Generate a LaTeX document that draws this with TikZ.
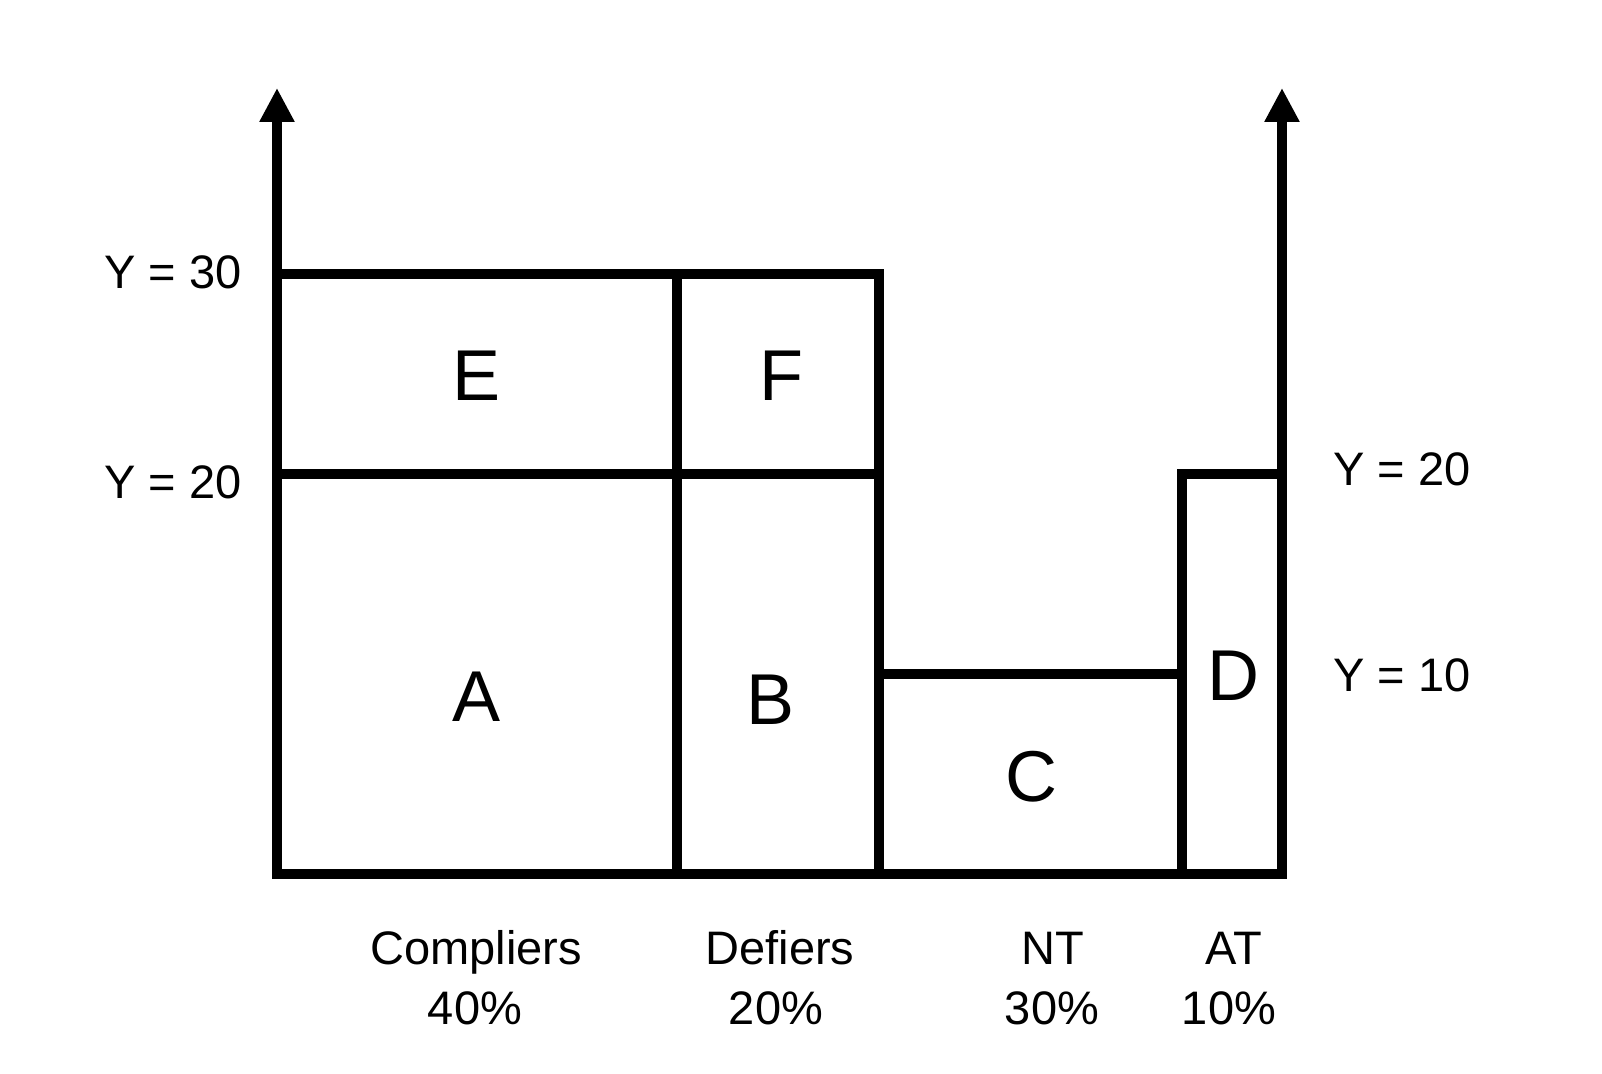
\documentclass[tikz,border=0pt]{standalone}
\usepackage{fontspec}
\setmainfont{Liberation Sans}
\usetikzlibrary{arrows.meta}
\tikzstyle{cell} = [line width=4.8pt]
\tikzstyle{axis} = [line width=4.8pt,-{Triangle[width=16.5pt,length=17pt]}]
\tikzstyle{letter} = [inner sep=0pt, font=\fontsize{36}{43}\selectfont]
\tikzstyle{lab} = [inner sep=0pt, font=\fontsize{23.5}{28}\selectfont]

\begin{document}
\begin{tikzpicture}[x=5pt, y=10pt]
    \useasboundingbox (-27.7,-10) rectangle (132.5,43.7);

    % Boxes (x = share in %, y = outcome)
    \draw[cell] (0,0) rectangle (40,30);
    \draw[cell] (0,20) -- (40,20);
    \draw[cell] (40,0) rectangle (60.2,30);
    \draw[cell] (40,20) -- (60.2,20);
    \draw[cell] (60.2,0) rectangle (90.5,10);
    \draw[cell] (90.5,0) rectangle (100.5,20);

    % Axes
    \coordinate (lbase) at (0,0);
    \coordinate (ltip) at (0,39.3);
    \coordinate (rbase) at (100.5,0);
    \coordinate (rtip) at (100.5,39.3);
    \draw[axis] (lbase) -- (ltip);
    \draw[axis] (rbase) -- (rtip);

    % Letters
    \foreach \x/\y/\name in {20/24.9/E, 50.4/24.9/F, 20/8.85/A, 49.4/8.7/B, 75.4/4.85/C, 95.6/9.9/D} {
        \node[letter] (cell\name) at (\x,\y) {\name};
    }

    % Outcome levels
    \node[lab, anchor=east] (ythirty) at (-3.5,30.1) {Y = 30};
    \node[lab, anchor=east] (ytwentyl) at (-3.5,19.6) {Y = 20};
    \node[lab, anchor=west] (ytwentyr) at (105.6,20.25) {Y = 20};
    \node[lab, anchor=west] (yten) at (105.6,9.95) {Y = 10};

    % Groups
    \foreach \x/\grp/\pct/\px in {19.9/Compliers/40/19.8, 50.3/Defiers/20/49.9, 77.6/NT/30/77.5, 95.7/AT/10/95.2} {
        \node[lab, anchor=base] (grp\grp) at (\x,-4.55) {\grp};
        \node[lab, anchor=base] (pct\grp) at (\px,-7.55) {\pct\%};
    }
\end{tikzpicture}
\end{document}
